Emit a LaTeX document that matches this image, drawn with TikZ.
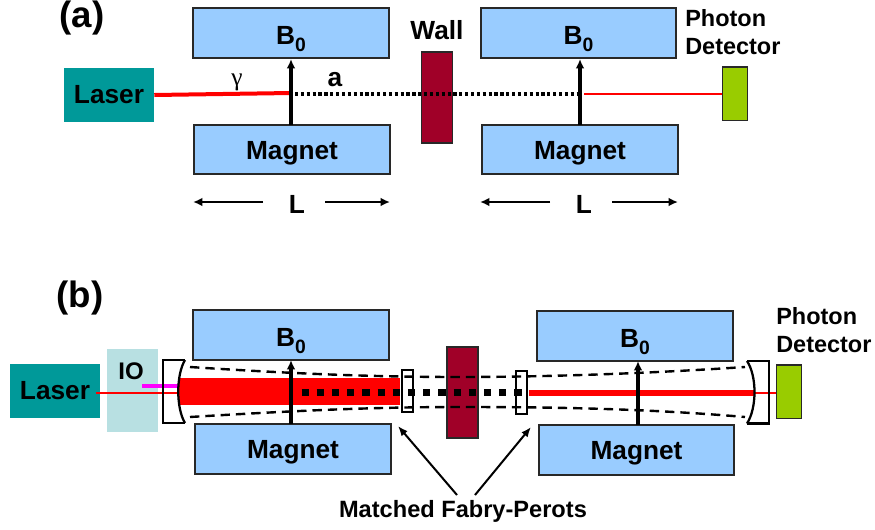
\documentclass[tikz,border=0pt]{standalone}
\usepackage{fontspec}
\usetikzlibrary{arrows.meta}
\setmainfont{Liberation Sans}
\newfontfamily\gammafont{Liberation Serif}
\definecolor{field_blue}{RGB}{153, 204, 255}
\definecolor{laser_teal}{RGB}{0, 153, 153}
\definecolor{wall_red}{RGB}{160, 0, 40}
\definecolor{det_green}{RGB}{153, 204, 0}
\definecolor{io_blue}{RGB}{184, 224, 226}
\definecolor{edge_grey}{RGB}{40, 40, 40}
\definecolor{pick_pink}{RGB}{255, 0, 255}
\definecolor{beam_red}{RGB}{255, 0, 0}
\tikzstyle{lbl}=[font=\fontsize{19.7}{21.5}\selectfont\bfseries,inner sep=0pt]
\tikzstyle{taglbl}=[font=\fontsize{27.5}{29}\selectfont\bfseries,inner sep=0pt]
\tikzstyle{detlbl}=[font=\fontsize{17.6}{21.3}\selectfont\bfseries,inner sep=0pt,align=left,anchor=west]
\tikzstyle{magbox}=[lbl,rectangle,fill=field_blue,draw=edge_grey,
  line width=1.6pt,minimum width=146.8pt,minimum height=37pt,text height=14.6pt,text depth=0pt]
\tikzstyle{laserbox}=[lbl,rectangle,fill=laser_teal,
  minimum width=67.5pt,minimum height=40.5pt,text height=13pt,text depth=0pt]
\tikzstyle{wallbox}=[rectangle,fill=wall_red,draw=edge_grey,
  line width=1.2pt,minimum width=23pt,minimum height=68pt,inner sep=0pt]
\tikzstyle{detbox}=[rectangle,fill=det_green,draw=edge_grey,
  line width=1pt,minimum width=19pt,minimum height=40pt,inner sep=0pt]
\tikzstyle{iobox}=[rectangle,fill=io_blue,minimum width=38pt,minimum height=62pt,inner sep=0pt]
\tikzstyle{fpbox}=[rectangle,fill=white,draw=black,
  line width=1.6pt,minimum width=8.5pt,minimum height=32pt,inner sep=0pt]
\tikzstyle{field}=[-{Latex[length=7pt,width=6.5pt]},line width=2.4pt]
\tikzstyle{span}=[-{Latex[length=7pt,width=6.5pt]},line width=2.1pt]
\tikzstyle{pointer}=[-{Latex[length=7.5pt,width=6pt]},line width=1.5pt]
\tikzstyle{mirror}=[line width=1.7pt,line join=miter]
\tikzstyle{mode}=[dashed,dash pattern=on 7pt off 4.5pt,line width=1.8pt]
\newcommand{\bzero}{\raisebox{-1pt}{B\raisebox{-5.5pt}{\fontsize{14.5}{15}\selectfont 0}}}

\begin{document}
\begin{tikzpicture}[x=0.75pt,y=-0.75pt]
    \useasboundingbox (0,0) rectangle (875,529);
    \node [style=taglbl] (tag_a) at (82,18) {(a)};
    \node [style=laserbox] (laser_a) at (109,95) {Laser};
    \node [style=magbox] (field_a1) at (291,33) {\bzero};
    \node [style=magbox] (magnet_a1) at (292,149.5) {Magnet};
    \node [style=magbox] (field_a2) at (578.5,33) {\bzero};
    \node [style=magbox] (magnet_a2) at (580,149.5) {Magnet};
    \node [style=wallbox] (wall_a) at (437,97.5) {};
    \node [style=lbl] (wall_lbl) at (437,30) {Wall};
    \node [style=detbox] (det_a) at (735,93.5) {};
    \node [style=detlbl] (det_lbl_a) at (685,32) {Photon\\Detector};
    \node [style=lbl,font=\fontsize{19}{20}\selectfont\gammafont] (gamma_lbl) at (237,82) {γ};
    \node [style=lbl] (axion_lbl) at (335,80) {a};
    \node [style=lbl] (len_a1) at (297,204) {L};
    \node [style=lbl] (len_a2) at (584,204) {L};
    \coordinate (conv_a1) at (291,93);
    \coordinate (conv_a2) at (580,94);
    \coordinate (tail_a1) at (291,125);
    \coordinate (head_a1) at (291,59);
    \coordinate (tail_a2) at (580,125);
    \coordinate (head_a2) at (580,59);
    \coordinate (re_a) at (584,94);
    \coordinate (exit_a) at (722,94);
    \coordinate (dot_a) at (295,94);
    \coordinate (spanl_a1) at (193,202);
    \coordinate (spanr_a1) at (390,202);
    \coordinate (spanl_a2) at (480,202);
    \coordinate (spanr_a2) at (678,202);
    \coordinate (spans_a1) at (263,202);
    \coordinate (spane_a1) at (325,202);
    \coordinate (spans_a2) at (550,202);
    \coordinate (spane_a2) at (612,202);
    \draw [beam_red,line width=3pt] (laser_a.east) to (conv_a1);
    \draw [beam_red,line width=1.3pt] (re_a) to (exit_a);
    \draw [line width=2.5pt,dash pattern=on 2.4pt off 2pt] (dot_a) to (conv_a2);
    \draw [style=field] (tail_a1) to (head_a1);
    \draw [style=field] (tail_a2) to (head_a2);
    \draw [style=span] (spans_a1) to (spanl_a1);
    \draw [style=span] (spane_a1) to (spanr_a1);
    \draw [style=span] (spans_a2) to (spanl_a2);
    \draw [style=span] (spane_a2) to (spanr_a2);

    \node [style=taglbl] (tag_b) at (80,298) {(b)};
    \node [style=iobox] (io) at (132.5,390.5) {};
    \node [style=lbl,font=\fontsize{18}{19}\selectfont\bfseries] (io_lbl) at (131,371) {IO};
    \node [style=laserbox] (laser_b) at (55,391) {Laser};
    \node [style=magbox] (field_b1) at (291,335) {\bzero};
    \node [style=magbox] (magnet_b1) at (293,449) {Magnet};
    \node [style=magbox] (field_b2) at (635,336) {\bzero};
    \node [style=magbox] (magnet_b2) at (636.5,450) {Magnet};
    \node [style=detbox] (det_b) at (789,391.5) {};
    \node [style=detlbl] (det_lbl_b) at (776,330) {Photon\\Detector};
    \node [style=lbl,font=\fontsize{17.7}{19}\selectfont\bfseries] (fp_lbl) at (463,511) {Matched Fabry-Perots};
    \coordinate (beam_start) at (96,393);
    \coordinate (mirror_l) at (178,393);
    \coordinate (pick_start) at (142,386);
    \coordinate (pick_end) at (178,386);
    \coordinate (fp_l) at (400,391.5);
    \coordinate (fp_r) at (529,393);
    \coordinate (mirror_r) at (755,393);
    \coordinate (dot_start) at (301.5,392.7);
    \coordinate (dot_end) at (524,392.7);
    \coordinate (tail_b1) at (291,424);
    \coordinate (head_b1) at (291,360);
    \coordinate (tail_b2) at (638,425);
    \coordinate (head_b2) at (638,361);
    \coordinate (fp_tail1) at (457,495);
    \coordinate (fp_tail2) at (475,495);
    \coordinate (fp_head1) at (398,426);
    \coordinate (fp_head2) at (531,427);
    \draw [beam_red,line width=2.2pt] (beam_start) to (mirror_l);
    \draw [pick_pink,line width=2.4pt] (pick_start) to (pick_end);
    \draw [beam_red,line width=20.2pt] (mirror_l |- fp_l) to (fp_l);
    \draw [beam_red,line width=3.8pt] (fp_r) to (mirror_r);
    \draw [beam_red,line width=1.6pt] (mirror_r) to (mirror_r -| det_b.west);
    \node [style=fpbox] (fp_a) at (407.5,391) {};
    \node [style=fpbox] (fp_b) at (521.5,392.5) {};
    \node [style=wallbox] (wall_b) at (462.5,392.5) {};
    \draw [style=mode] (190,367) .. controls (290,373.5) and (370,377) .. (460,377)
      .. controls (540,377) and (640,374) .. (745,367);
    \draw [style=mode] (190,417) .. controls (290,411) and (370,407) .. (460,407)
      .. controls (540,407) and (640,408) .. (745,417);
    \draw [line width=5.4pt,dash pattern=on 5.4pt off 6pt] (dot_start) to (dot_end);
    \draw [style=mirror] (185,360) -- (163,360) -- (163,423) -- (185,423);
    \draw [style=mirror] (185,360) .. controls (176,375) and (176,408) .. (185,423);
    \draw [style=mirror] (747,361) -- (769,361) -- (769,423.5) -- (747,423.5);
    \draw [style=mirror] (747,361) .. controls (757,376) and (757,408) .. (747,423.5);
    \draw [style=field] (tail_b1) to (head_b1);
    \draw [style=field] (tail_b2) to (head_b2);
    \draw [style=pointer] (fp_tail1) to (fp_head1);
    \draw [style=pointer] (fp_tail2) to (fp_head2);
  \end{tikzpicture}
\end{document}
